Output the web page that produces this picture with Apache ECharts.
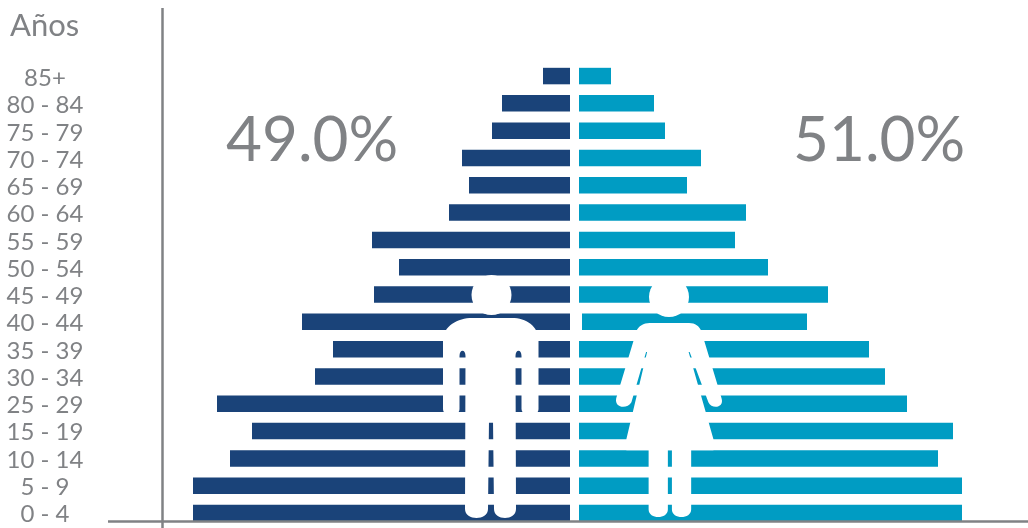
<!DOCTYPE html>
<html><head><meta charset="utf-8">
<style>html,body{margin:0;padding:0;background:#fff}#c{width:1028px;height:528px}</style>
<script src="https://cdn.jsdelivr.net/npm/echarts@6/dist/echarts.min.js"></script>
</head><body><div id="c"></div>
<script>
const categories = ['85+','80 - 84','75 - 79','70 - 74','65 - 69','60 - 64','55 - 59','50 - 54','45 - 49','40 - 44','35 - 39','30 - 34','25 - 29','15 - 19','10 - 14','5 - 9','0 - 4'];
const hombres = [2.7,6.8,7.8,10.8,10.1,12.1,19.8,17.1,19.6,26.8,23.7,25.5,35.3,31.8,34.0,37.7,37.7];
const mujeres = [3.2,7.5,8.6,12.2,10.8,16.7,15.6,18.9,24.9,22.8,29.0,30.6,32.8,37.4,35.9,38.3,38.3];
const totalHombres = '49.0%';
const totalMujeres = '51.0%';
const axisTitle = 'Años';

const GREY = '#808285';
const chart = echarts.init(document.getElementById('c'), null, {renderer:'canvas'});
const fam = 'Lato, "Open Sans", sans-serif';

const manPath = 'M472 318 L512 318 C526 318 538.5 326 538.5 340 L538.5 409 C538.5 417 522 417 521.5 409 L521.5 356 C521.5 349 515.5 349 515.5 356 L516 509 C516 521 494 521 494 509 L493 420 L489 420 L488 509 C488 521 465 521 465 509 L465.5 356 C465.5 349 459.5 349 459.5 356 L459.5 409 C459.5 417 443 417 443 409 L443 340 C443 326 458 318 472 318 Z';
const womanPath = 'M650 323 L689 323 C695 323 699 326 701 331 L721 398 C724 408 711 409 708 402 L689.5 352 L688.5 352 L713 439 L713 450 L691 450 L691 509 C691 519 672 519 672 509 L672 450 L668 450 L668 509 C668 519 649 519 649 509 L649 450 L627 450 L627 439 L647.5 352 L646.5 352 L632 402 C628 409 615 408 617 398 L637 331 C639 326 644 323 650 323 Z';

function renderFigures(){
  const white = {fill:'#fff'};
  return {type:'group',children:[
    {type:'rect',shape:{x:579,y:312,width:3,height:18},style:white},
    {type:'circle',shape:{cx:491.5,cy:295,r:20},style:white},
    {type:'path',shape:{pathData:manPath,layout:'cover',x:443,y:318,width:95.5,height:200},style:white},
    {type:'circle',shape:{cx:669,cy:297,r:20},style:white},
    {type:'path',shape:{pathData:womanPath,layout:'cover',x:616,y:323,width:106,height:194},style:white}
  ]};
}

chart.setOption({
  animation:false,
  backgroundColor:'#fff',
  grid:[
    {left:163,width:407,top:62.4,height:464.3},
    {left:579,width:449,top:62.4,height:464.3},
    {left:163,width:407,top:64.9,height:464.3}
  ],
  xAxis:[
    {type:'value',gridIndex:0,min:0,max:40.7,inverse:true,show:false},
    {type:'value',gridIndex:1,min:0,max:44.9,show:false},
    {type:'value',gridIndex:2,min:0,max:40.7,show:false}
  ],
  yAxis:[
    {type:'category',gridIndex:0,data:categories,inverse:true,position:'right',
     axisLine:{show:false},axisTick:{show:false},axisLabel:{show:false}},
    {type:'category',gridIndex:1,data:categories,inverse:true,position:'left',
     axisLine:{show:false},axisTick:{show:false},axisLabel:{show:false}},
    {type:'category',gridIndex:2,data:categories,inverse:true,position:'left',
     axisLine:{show:false},axisTick:{show:false},
     axisLabel:{show:true,margin:118,align:'center',color:GREY,fontSize:24,fontFamily:fam,fontWeight:400,interval:0}}
  ],
  series:[
    {name:'Hombres',type:'bar',xAxisIndex:0,yAxisIndex:0,data:hombres,barWidth:16.5,itemStyle:{color:'#1a4379'},silent:true},
    {name:'Mujeres',type:'bar',xAxisIndex:1,yAxisIndex:1,data:mujeres,barWidth:16.5,itemStyle:{color:'#009cc3'},silent:true},
    {name:'Figuras',type:'custom',coordinateSystem:'none',data:[0],renderItem:renderFigures,z:10,silent:true}
  ],
  graphic:[
    {type:'line',z:60,shape:{x1:162.5,y1:8,x2:162.5,y2:528},style:{stroke:GREY,lineWidth:2.5}},
    {type:'line',z:60,shape:{x1:108,y1:521.5,x2:1028,y2:521.5},style:{stroke:GREY,lineWidth:2.5}},
    {type:'text',z:60,x:10,y:10,style:{text:axisTitle,fill:GREY,font:'400 31px '+fam}},
    {type:'text',z:60,x:226,y:110,style:{text:totalHombres,fill:GREY,font:'400 62px '+fam}},
    {type:'text',z:60,x:793,y:110,style:{text:totalMujeres,fill:GREY,font:'400 62px '+fam}}
  ]
});
</script></body></html>
